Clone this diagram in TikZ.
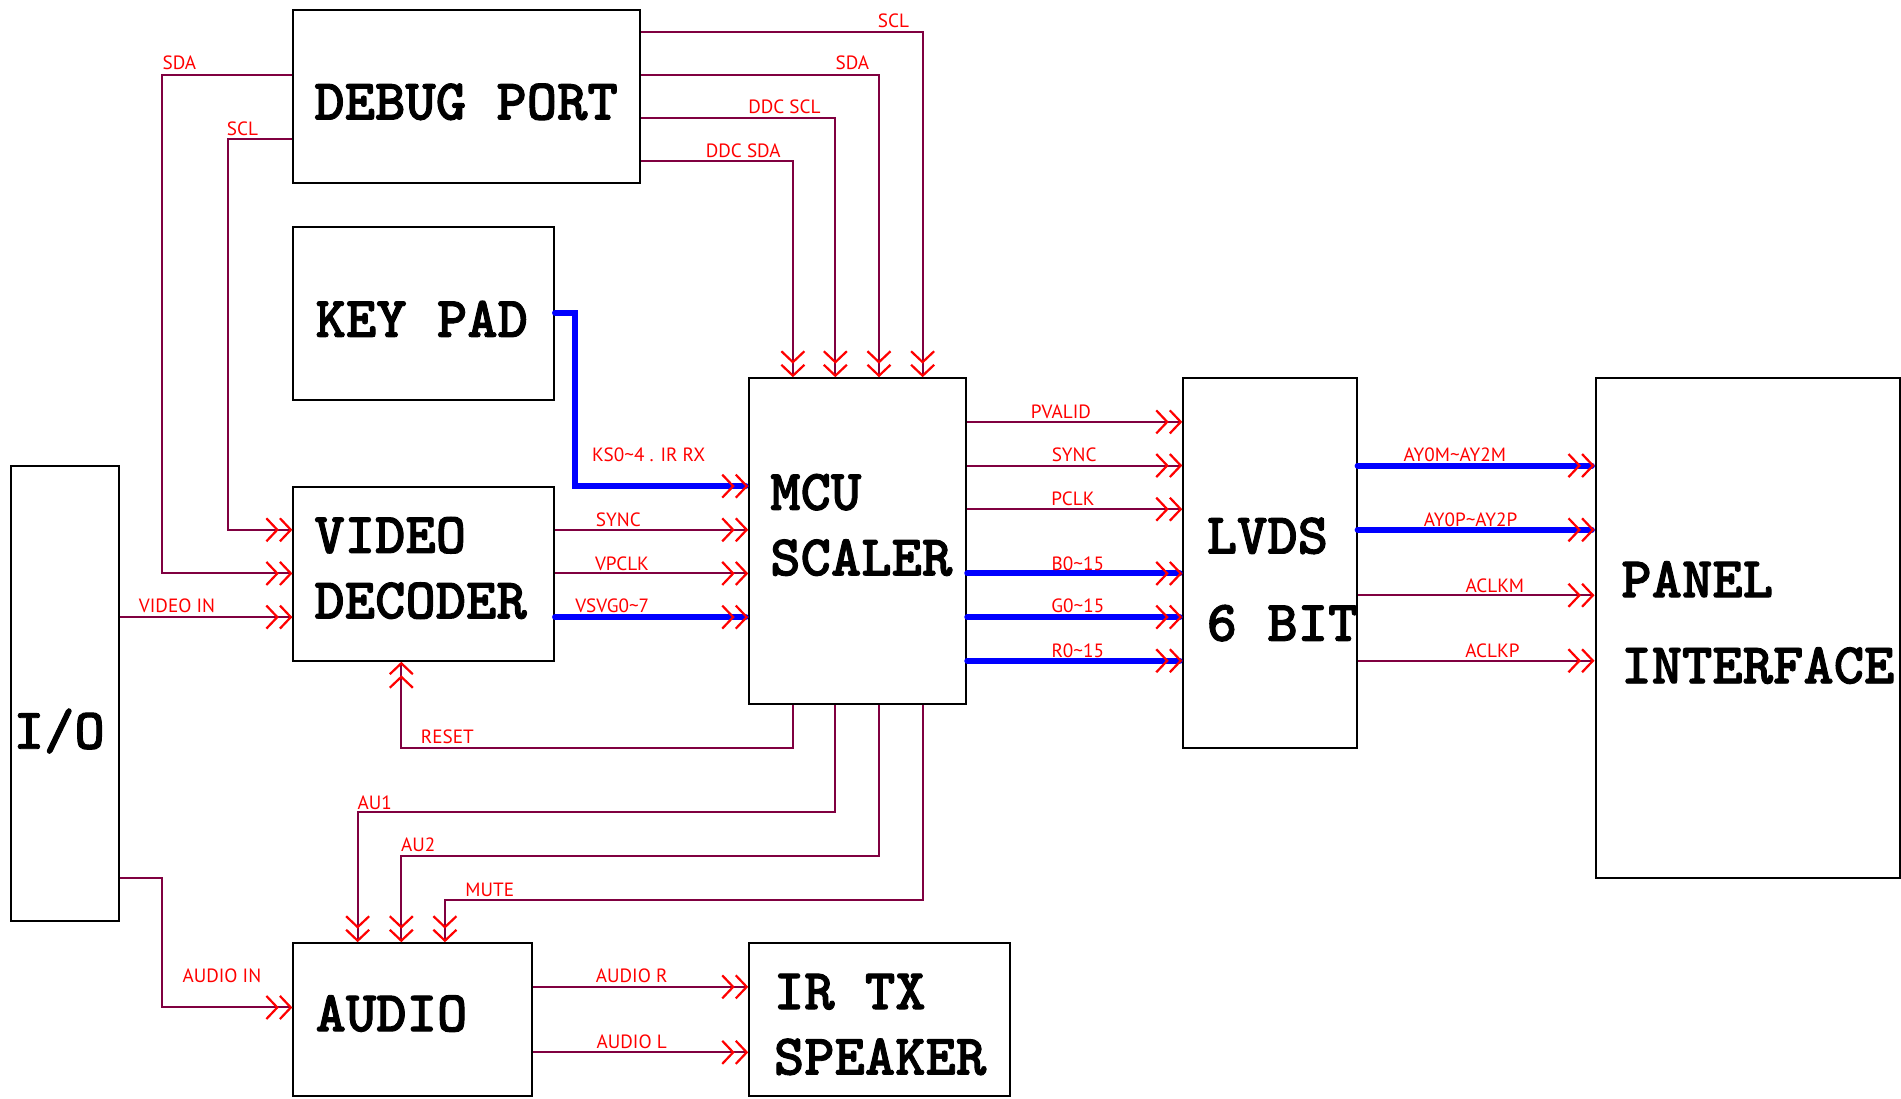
\documentclass[tikz,border=0pt]{standalone}
\usepackage{fontspec}
\setmainfont{PT Sans}
\newfontfamily\blockfont{lmmonolt10-bold.otf}[FakeBold=1.6]
\usetikzlibrary{arrows.meta,positioning,fit,calc}
\definecolor{wirered}{RGB}{128,0,64}
\definecolor{tagred}{RGB}{255,0,0}

\begin{document}
\begin{tikzpicture}[
    x=0.6pt, y=-0.6pt,
    box/.style={draw, line width=1pt, inner sep=0pt},
    boxtext/.style={font=\blockfont\fontsize{28.6pt}{32.4pt}\selectfont, align=left, inner sep=0pt, anchor=west},
    tag/.style={font=\fontsize{9.5pt}{11pt}\selectfont, text=tagred, inner sep=0pt},
    sig/.style={draw=wirered, line width=1pt},
    bus/.style={draw=blue, line width=3pt, line cap=round},
    arrow/.style={-{Straight Barb[color=tagred,length=5.4pt,width=11.4pt,line width=1.1pt,sep=0pt]Straight Barb[color=tagred,length=5.4pt,width=11.4pt,line width=1.1pt,sep=0pt]}}
]
\useasboundingbox (0,0) rectangle (1568,906);

% blocks
\node[box, fit={(242,8) (528,151)}] (dbg) {};
\node[box, fit={(242,187) (457,330)}] (kp) {};
\node[box, fit={(242,402) (457,545)}] (vd) {};
\node[box, fit={(9,384) (98,760)}] (io) {};
\node[box, fit={(618,312) (797,581)}] (mcu) {};
\node[box, fit={(976,312) (1119,617)}] (lvds) {};
\node[box, fit={(1316,312) (1567,724)}] (panel) {};
\node[box, fit={(242,778) (439,904)}] (au) {};
\node[box, fit={(618,778) (833,904)}] (irtx) {};

\node[boxtext] (dbgtxt) at (259,84) {DEBUG PORT};
\node[boxtext] (kptxt) at (260,263) {KEY PAD};
\node[boxtext] (vdtxt) at (259,468.5) {VIDEO\\DECODER};
\node[boxtext] (mcutxt) at (635,433) {MCU\\SCALER};
\node[boxtext] (lvdstxt) at (995,478) {LVDS\\[10.8pt]6 BIT};
\node[boxtext] (paneltxt) at (1337,513.5) {PANEL\\[10.2pt]INTERFACE};
\node[boxtext] (iotxt) at (11,603) {I/O};
\node[boxtext] (autxt) at (260,836) {AUDIO};
\node[boxtext] (irtxtxt) at (638,845) {IR TX\\SPEAKER};

% debug port
\draw[sig, arrow] (dbg.east |- 0,26) -| (mcu.north -| 761,0);
\draw[sig, arrow] (dbg.east |- 0,62) -| (mcu.north -| 725,0);
\draw[sig, arrow] (dbg.east |- 0,97) -| (mcu.north -| 689,0);
\draw[sig, arrow] (dbg.east |- 0,133) -| (mcu.north -| 654,0);
\draw[sig, arrow] (dbg.west |- 0,62) -- (134,62) |- (vd.west |- 0,473);
\draw[sig, arrow] (dbg.west |- 0,115) -- (188,115) |- (vd.west |- 0,437);
\node[tag] (tscla) at (737,17) {SCL};
\node[tag] (tsdaa) at (703,52) {SDA};
\node[tag] (tddcscl) at (647,88) {DDC SCL};
\node[tag] (tddcsda) at (613,124) {DDC SDA};
\node[tag] (tsdab) at (148,52) {SDA};
\node[tag] (tsclb) at (200,106) {SCL};

% key pad and video decoder
\draw[bus, arrow] (kp.east |- 0,258) -- (474,258) |- (mcu.west |- 0,401);
\draw[sig, arrow] (io.east |- 0,509) -- (vd.west |- 0,509);
\draw[sig, arrow] (vd.east |- 0,437) -- (mcu.west |- 0,437);
\draw[sig, arrow] (vd.east |- 0,473) -- (mcu.west |- 0,473);
\draw[bus, arrow] (vd.east |- 0,509) -- (mcu.west |- 0,509);
\draw[sig, arrow] (mcu.south -| 654,0) -- (654,617) -| (vd.south -| 331,0);
\node[tag] (tks) at (535,375) {KS0\textasciitilde4 . IR RX};
\node[tag] (tvideoin) at (146,500) {VIDEO IN};
\node[tag] (tsynca) at (510,429) {SYNC};
\node[tag] (tvpclk) at (513,465) {VPCLK};
\node[tag] (tvsvg) at (505,500) {VSVG0\textasciitilde7};
\node[tag] (treset) at (369,608) {RESET};

% scaler to lvds
\draw[sig, arrow] (mcu.east |- 0,348) -- (lvds.west |- 0,348);
\draw[sig, arrow] (mcu.east |- 0,384) -- (lvds.west |- 0,384);
\draw[sig, arrow] (mcu.east |- 0,420) -- (lvds.west |- 0,420);
\draw[bus, arrow] (mcu.east |- 0,473) -- (lvds.west |- 0,473);
\draw[bus, arrow] (mcu.east |- 0,509) -- (lvds.west |- 0,509);
\draw[bus, arrow] (mcu.east |- 0,545) -- (lvds.west |- 0,545);
\node[tag] (tpvalid) at (875,340) {PVALID};
\node[tag] (tsyncb) at (886,375) {SYNC};
\node[tag] (tpclk) at (885,411) {PCLK};
\node[tag] (tb) at (889,465) {B0\textasciitilde15};
\node[tag] (tg) at (889,500) {G0\textasciitilde15};
\node[tag] (tr) at (889,537) {R0\textasciitilde15};

% lvds to panel
\draw[bus, arrow] (lvds.east |- 0,384) -- (panel.west |- 0,384);
\draw[bus, arrow] (lvds.east |- 0,437) -- (panel.west |- 0,437);
\draw[sig, arrow] (lvds.east |- 0,491) -- (panel.west |- 0,491);
\draw[sig, arrow] (lvds.east |- 0,545) -- (panel.west |- 0,545);
\node[tag] (tay0m) at (1200,375) {AY0M\textasciitilde AY2M};
\node[tag] (tay0p) at (1213,429) {AY0P\textasciitilde AY2P};
\node[tag] (taclkm) at (1233,483) {ACLKM};
\node[tag] (taclkp) at (1231,537) {ACLKP};

% audio
\draw[sig, arrow] (mcu.south -| 689,0) -- (689,670) -| (au.north -| 295,0);
\draw[sig, arrow] (mcu.south -| 725,0) -- (725,706) -| (au.north -| 331,0);
\draw[sig, arrow] (mcu.south -| 761,0) -- (761,742) -| (au.north -| 367,0);
\draw[sig, arrow] (io.east |- 0,724) -- (134,724) |- (au.west |- 0,831);
\draw[sig, arrow] (au.east |- 0,814) -- (irtx.west |- 0,814);
\draw[sig, arrow] (au.east |- 0,868) -- (irtx.west |- 0,868);
\node[tag] (tau1) at (309,662) {AU1};
\node[tag] (tau2) at (345,697) {AU2};
\node[tag] (tmute) at (404,734) {MUTE};
\node[tag] (taudioin) at (183,805) {AUDIO IN};
\node[tag] (taudior) at (521,805) {AUDIO R};
\node[tag] (taudiol) at (521,859) {AUDIO L};
\end{tikzpicture}
\end{document}
